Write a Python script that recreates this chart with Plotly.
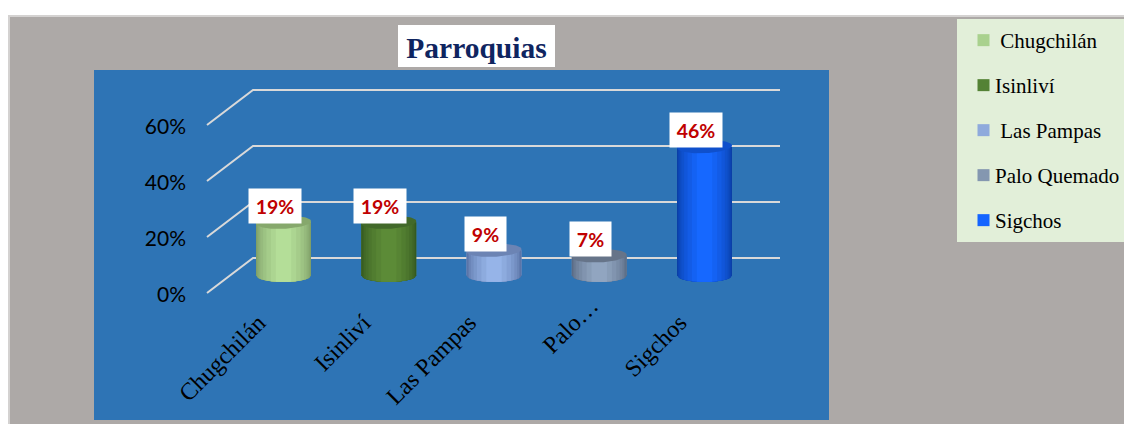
import numpy as np
import plotly.graph_objects as go

categories = ["Chugchilán", "Isinliví", "Las Pampas", "Palo Quemado", "Sigchos"]
NB = "\u00a0"
tick_labels = ["Chugchilán" + NB * 4, "Isinliví" + NB * 4, "Las Pampas" + NB * 4, "Palo…", "Sigchos" + NB * 4]
legend_labels = [NB + "Chugchilán", "Isinliví", NB + "Las Pampas", "Palo Quemado", "Sigchos"]
values = [19, 19, 9, 7, 46]
y_ticks = [0, 20, 40, 60]

swatch = ["#A9D18E", "#548235", "#8FAADC", "#8497B0", "#1464FF"]
edge = ["#7F9F68", "#365A20", "#5872A4", "#5A6B84", "#0A3FA8"]
centre = ["#B4DE98", "#5C8B37", "#96B4E8", "#91A5C0", "#1668FF"]
top = ["#86A86C", "#42692A", "#6C84B4", "#667489", "#0F50CC"]

# the page body has an 8 px margin, so the figure starts at (8, 8)
OFF = 8
W, H = 1132 - OFF, 424 - OFF
px = lambda x: (x - OFF) / W
py = lambda y: 1 - (y - OFF) / H

# layout constants (page pixels)
X0, DX = 283.5, 105.25     # centre of first cylinder, spacing
Y0, DY = 293.0, 2.8        # front 0 % line, px per percentage point
L, R, T, B = 200, 785, 70, 300
xv = lambda p: (p - X0) / DX
DEPTH = 35 / DY            # floor depth in value units
BASE = DEPTH / 2
HALF = 27.5 / DX           # cylinder half width in x units
RY = 6.5 / DY              # ellipse half height in value units
TILT = 1.2 / DY            # slight tilt of the top ellipse
FRAC = [1, .96, .91, .84, .74, .62, .46, .28]


def mix(a, b, t):
    a = [int(a[i:i + 2], 16) for i in (1, 3, 5)]
    b = [int(b[i:i + 2], 16) for i in (1, 3, 5)]
    return "rgb(%d,%d,%d)" % tuple(round(p + (q - p) * t) for p, q in zip(a, b))


fig = go.Figure()
for i, (cat, val) in enumerate(zip(categories, values)):
    fig.add_bar(x=[i], y=[val], base=BASE, width=2 * HALF, name=legend_labels[i],
                marker=dict(color=swatch[i], line_width=0), legendgroup=cat,
                hovertemplate=f"{cat}: {val}%<extra></extra>")
    for k, f in enumerate(FRAC):
        c = mix(edge[i], centre[i], k / (len(FRAC) - 1))
        fig.add_bar(x=[i], y=[val], base=BASE, width=2 * HALF * f, showlegend=False,
                    marker=dict(color=c, line_width=0), legendgroup=cat, hoverinfo="skip")
        t = np.linspace(-f, f, 41)
        fig.add_scatter(x=np.r_[i + t * HALF, i + f * HALF, i - f * HALF],
                        y=np.r_[BASE - RY * np.sqrt(1 - t ** 2), BASE + .2, BASE + .2],
                        mode="lines", fill="toself", fillcolor=c, line=dict(width=0),
                        showlegend=False, legendgroup=cat, hoverinfo="skip")
    a = np.linspace(0, 2 * np.pi, 81)
    fig.add_scatter(x=i + HALF * np.cos(a), y=BASE + val + RY * np.sin(a) + TILT * np.cos(a),
                    mode="lines", fill="toself", fillcolor=top[i], line=dict(width=0),
                    showlegend=False, legendgroup=cat, hoverinfo="skip")

shapes = [
    dict(type="rect", xref="paper", yref="paper", x0=px(8), x1=1, y0=0, y1=py(15),
         fillcolor="#D4D2D1", line_width=0, layer="below"),
    dict(type="rect", xref="paper", yref="paper", x0=px(10), x1=1, y0=0, y1=py(17),
         fillcolor="#ADA9A7", line_width=0, layer="below"),
    dict(type="rect", xref="paper", yref="paper", x0=px(94), x1=px(829), y0=py(420), y1=py(70),
         fillcolor="#2E74B5", line_width=0, layer="below"),
    dict(type="rect", xref="paper", yref="paper", x0=px(957), x1=1, y0=py(242), y1=py(19),
         fillcolor="#E2EFD9", line_width=0, layer="below"),
    dict(type="rect", xref="paper", yref="paper", x0=px(398), x1=px(555), y0=py(67), y1=py(25),
         fillcolor="#FFFFFF", line_width=0, layer="below"),
]
for v in y_ticks:
    shapes.append(dict(type="path", xref="x", yref="y", layer="below",
                       path=f"M{xv(207)},{v} L{xv(253)},{v + DEPTH} L{xv(780)},{v + DEPTH}",
                       line=dict(color="#D9D9D9", width=2)))

annotations = []
for i, val in enumerate(values):
    label = f"{val}%"
    annotations.append(dict(x=i, y=val + BASE, xref="x", yref="y", text=f"<b>{label}</b>",
                            showarrow=False, xanchor="center", yanchor="bottom", xshift=-8.5, yshift=-1.5,
                            width=52 if val >= 10 else 41, height=34, bgcolor="#FFFFFF",
                            borderpad=0, valign="middle", align="center",
                            font=dict(family="Lato", size=19.5, color="#C00000")))

fig.update_layout(
    width=W, height=H, autosize=False, margin=dict(l=0, r=0, t=0, b=0),
    paper_bgcolor="#FFFFFF", plot_bgcolor="rgba(0,0,0,0)", barmode="overlay",
    shapes=shapes, annotations=annotations,
    title=dict(text="<b>Parroquias</b>", x=px(476.5), y=py(48), xref="paper", yref="paper",
               xanchor="center", yanchor="middle", automargin=False,
               font=dict(family="Liberation Serif", size=29.5, color="#0F2560")),
    xaxis=dict(domain=[px(L), px(R)], range=[xv(L), xv(R)], tickmode="array",
               tickvals=list(range(len(categories))), ticktext=tick_labels, tickangle=-45,
               anchor="free", position=py(286), automargin=False,
               showgrid=False, zeroline=False, showline=False, ticks="",
               ticklabelstandoff=0, ticklabelshift=-8,
               tickfont=dict(family="Liberation Serif", size=24, color="#000000")),
    yaxis=dict(domain=[py(B), py(T)], range=[(Y0 - B) / DY, (Y0 - T) / DY], tickmode="array",
               tickvals=y_ticks, ticktext=[f"{v}%" for v in y_ticks], automargin=False,
               showgrid=False, zeroline=False, showline=False, ticks="",
               ticklabelstandoff=13, ticklabelshift=2,
               tickfont=dict(family="Lato", size=21, color="#000000")),
    legend=dict(x=px(955), y=py(20), xanchor="left", yanchor="top", bgcolor="rgba(0,0,0,0)",
                traceorder="grouped", tracegroupgap=14.7, itemwidth=30,
                font=dict(family="Liberation Serif", size=21, color="#000000")),
)
post = """
document.querySelectorAll('.legendsymbols').forEach(function (g) {
  g.setAttribute('transform', 'translate(8.5,0)');
});
"""
fig.write_html("out.html", post_script=post)
